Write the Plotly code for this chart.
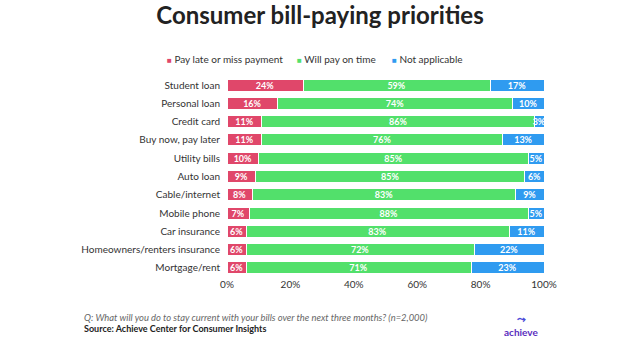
import plotly.graph_objects as go

categories = ["Student loan", "Personal loan", "Credit card", "Buy now, pay later",
              "Utility bills", "Auto loan", "Cable/internet", "Mobile phone",
              "Car insurance", "Homeowners/renters insurance", "Mortgage/rent"]
pay_late = [24, 16, 11, 11, 10, 9, 8, 7, 6, 6, 6]
on_time = [59, 74, 86, 76, 85, 85, 83, 88, 83, 72, 71]
not_applicable = [17, 10, 3, 13, 5, 6, 9, 5, 11, 22, 23]
tick_vals = [0, 20, 40, 60, 80, 100]
tick_text = ["0%", "20%", "40%", "60%", "80%", "100%"]

series_names = ["Pay late or miss payment", "Will pay on time", "Not applicable"]
series_values = [pay_late, on_time, not_applicable]
series_colors = ["#E0476A", "#52E06B", "#2F9BF0"]

FONT = "Lato, Open Sans, sans-serif"
fig = go.Figure()
for name, vals, col in zip(series_names, series_values, series_colors):
    fig.add_trace(go.Bar(
        y=categories, x=vals, name=name, orientation="h",
        marker=dict(color=col, line=dict(color="white", width=1)),
        text=[f"{v}%" for v in vals], textposition="inside",
        insidetextanchor="middle", textangle=0,
        textfont=dict(color="white", size=9, family=FONT, weight="bold"),
        constraintext="none", cliponaxis=False, showlegend=False,
    ))

fig.update_layout(
    barmode="stack", bargap=0.34,
    width=640, height=360,
    margin=dict(l=227, r=96, t=76, b=83, autoexpand=False),
    paper_bgcolor="white", plot_bgcolor="white",
    font=dict(family=FONT, color="#333333", size=10),
    uniformtext=dict(minsize=9, mode="show"),
    title=dict(text="<b>Consumer bill-paying priorities</b>", x=0.5, xanchor="center",
               xref="container", yref="container",
               y=0.957, yanchor="middle", font=dict(size=24, color="#222222", family=FONT)),
    showlegend=False,
)
fig.update_yaxes(autorange="reversed", showgrid=False, ticks="", ticklabelstandoff=6,
                 tickfont=dict(size=10, color="#333333"), automargin=False)
fig.update_xaxes(range=[0, 100], tickvals=tick_vals, ticktext=tick_text, showgrid=False,
                 zeroline=False, tickfont=dict(size=10, color="#333333"), ticks="",
                 automargin=False)

# legend drawn as text entries
legend_x_px = [165, 295, 390]
for name, col, px in zip(series_names, series_colors, legend_x_px):
    fig.add_annotation(
        text=f"<span style='color:{col};font-size:8px'>■</span> {name}",
        xref="paper", yref="paper", x=(px - 227) / 317, y=1 + 17 / 201,
        xanchor="left", yanchor="middle", showarrow=False,
        font=dict(size=10, color="#333333", family=FONT))

fig.add_annotation(text="<i>Q: What will you do to stay current with your bills over the next three months? (n=2,000)</i>",
                   xref="paper", yref="paper", x=-0.457, y=-0.2, xanchor="left", yanchor="middle",
                   showarrow=False, font=dict(size=9.4, color="#666666", family=FONT))
fig.add_annotation(text="<b>Source: Achieve Center for Consumer Insights</b>",
                   xref="paper", yref="paper", x=-0.457, y=-0.255, xanchor="left", yanchor="middle",
                   showarrow=False, font=dict(size=9, color="#222222", family=FONT))
fig.add_annotation(text="<b>achieve</b>", xref="paper", yref="paper", x=0.928, y=-0.275,
                   xanchor="center", yanchor="middle", showarrow=False,
                   font=dict(size=10, color="#5A2DBE", family=FONT))
fig.add_annotation(text="<b>⤳</b>", xref="paper", yref="paper", x=0.93, y=-0.205,
                   xanchor="center", yanchor="middle", showarrow=False,
                   font=dict(size=11, color="#4A4AD8", family=FONT))

fig.write_html("out.html", config={"displayModeBar": False},
               post_script="document.body.style.margin='0';")
